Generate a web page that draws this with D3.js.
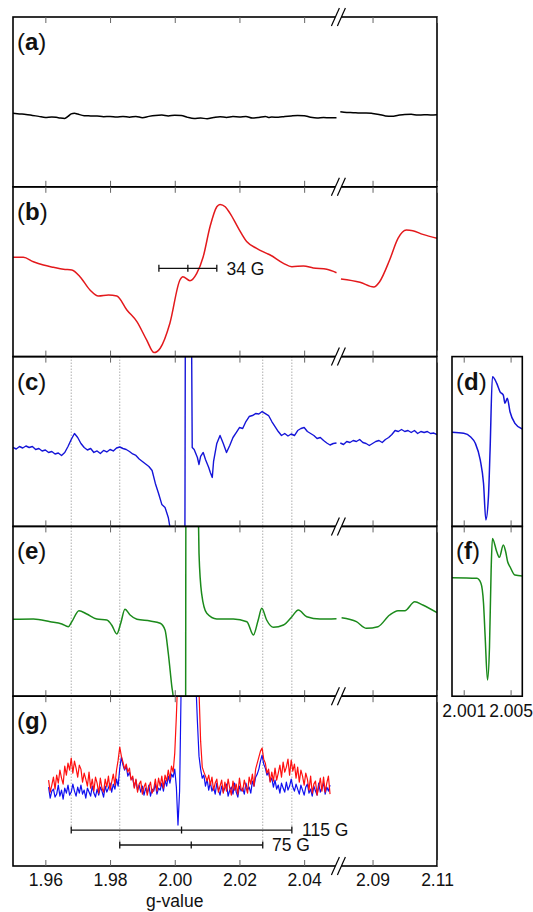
<!DOCTYPE html>
<html>
<head>
<meta charset="utf-8">
<script src="https://cdn.jsdelivr.net/npm/d3@7"></script>
<style>
body{margin:0;background:#fff;}
svg{display:block;}
text{font-family:"Liberation Sans",Arial,sans-serif;}
</style>
</head>
<body>
<svg id="chart" width="533" height="912"></svg>
<script>
// ---- data (g-value, intensity in a.u.) ----
var ticksLeft = [1.96, 1.98, 2.00, 2.02, 2.04];
var ticksRight = [2.09, 2.11];
var ticksInset = [2.001, 2.005];
var rowLabels = ["a", "b", "c", "e", "g"];
var insetLabels = ["d", "f"];
var guideG = [1.968, 1.983, 2.0272, 2.0362];

// (a) black
var specALeft = [[1.950,-11.4],[1.952,-12],[1.954,-12.5],[1.956,-13.5],[1.958,-14.5],[1.960,-15.5],[1.962,-15],[1.964,-15.8],[1.966,-16.6],[1.967,-14.5],[1.968,-12],[1.969,-11.3],[1.970,-12.2],[1.972,-13.8],[1.974,-14],[1.976,-14.2],[1.978,-14.8],[1.980,-14.5],[1.982,-15.2],[1.984,-14.6],[1.986,-15.3],[1.988,-14.5],[1.990,-15.8],[1.992,-14.5],[1.994,-13.6],[1.996,-13.2],[1.998,-14],[2.000,-13.3],[2.002,-13.6],[2.004,-15.5],[2.006,-16.6],[2.008,-16.2],[2.010,-16.8],[2.012,-15.6],[2.014,-14.8],[2.016,-15.5],[2.018,-14.7],[2.020,-15],[2.022,-14.6],[2.024,-16.2],[2.026,-15.6],[2.028,-14.5],[2.029,-15.6],[2.030,-15.2],[2.032,-15.4],[2.034,-14.6],[2.036,-14],[2.038,-13.6],[2.040,-13.8],[2.042,-15.4],[2.044,-16.2],[2.046,-15.6],[2.048,-15.9],[2.050,-15.8]];
var specARight = [[2.080,-9.8],[2.082,-10.6],[2.084,-10.8],[2.086,-11.2],[2.088,-11],[2.090,-11.6],[2.092,-12.6],[2.094,-14],[2.096,-14.4],[2.098,-13.4],[2.100,-12.6],[2.102,-12.4],[2.104,-13.2],[2.106,-12.8],[2.108,-13],[2.110,-12.8]];

// (b) red
var specBLeft = [[1.9500,14.4],[1.9532,14.4],[1.9563,10],[1.9594,6.7],[1.9625,4.4],[1.9656,2.4],[1.9682,1.7],[1.9707,-5],[1.9738,-18.3],[1.9764,-24.3],[1.9795,-23.3],[1.9821,-24.3],[1.9852,-38.3],[1.9883,-50],[1.9913,-68.3],[1.9936,-81],[1.9955,-76.6],[1.9985,-51.6],[2.0016,-8.3],[2.0025,-5],[2.0047,-9],[2.0068,-1.6],[2.0088,15],[2.0109,45],[2.0130,65],[2.0140,67.4],[2.0156,65],[2.0171,58.4],[2.0197,43.4],[2.0223,30],[2.0253,23.4],[2.0284,18.4],[2.0295,16.7],[2.0336,8.4],[2.0362,5],[2.0398,5.7],[2.0428,3.7],[2.0470,2.4],[2.0500,-1]];
var specBRight = [[2.0802,-7.3],[2.0861,-10.6],[2.0904,-15.3],[2.0922,-10],[2.0953,11.7],[2.0979,33.4],[2.1005,41.7],[2.1025,41],[2.1056,37.4],[2.1100,33.4]];

// (c) blue
var specCLeft = [[1.950,-6],[1.951,-7.5],[1.952,-5],[1.953,-6.5],[1.954,-4.5],[1.955,-6],[1.956,-5],[1.957,-8],[1.958,-7],[1.959,-9.5],[1.960,-8.5],[1.961,-11],[1.962,-10],[1.963,-12.5],[1.964,-11.5],[1.965,-14],[1.966,-11],[1.967,-5],[1.968,2],[1.969,8],[1.970,4],[1.971,-2],[1.972,-6],[1.973,-8.5],[1.974,-7],[1.975,-11],[1.976,-9.5],[1.977,-12],[1.978,-9],[1.979,-10.5],[1.980,-8],[1.981,-9.5],[1.982,-6.5],[1.983,-5.5],[1.984,-7],[1.985,-8],[1.986,-10],[1.987,-12.5],[1.988,-14],[1.989,-17.5],[1.990,-20],[1.991,-22.5],[1.992,-25],[1.993,-29],[1.994,-42],[1.995,-52],[1.996,-63],[1.997,-66],[1.998,-76],[1.999,-95],[2.000,-120],[2.001,-140],[2.002,-150],[2.0031,-160],[2.0033,160],[2.004,170],[2.0051,160],[2.0054,-6],[2.006,-8],[2.007,-16],[2.0075,-23],[2.008,-15],[2.0088,-11],[2.0095,-18],[2.010,-22],[2.0105,-26],[2.011,-31],[2.0116,-36],[2.012,-20],[2.013,-2],[2.014,6],[2.015,-2],[2.016,-11],[2.017,-4],[2.018,4],[2.019,9],[2.020,14],[2.021,13],[2.022,20],[2.023,25],[2.024,26],[2.025,28],[2.026,27.5],[2.027,30],[2.028,28],[2.029,26],[2.030,20],[2.031,15],[2.032,10],[2.033,6],[2.034,8],[2.035,5.5],[2.036,7.5],[2.037,6],[2.038,11],[2.039,13],[2.040,14],[2.041,10],[2.042,8],[2.043,6],[2.044,3],[2.045,4],[2.046,1],[2.047,-1.5],[2.048,-3.5],[2.049,-2],[2.050,-1.5]];
var specCRight = [[2.080,-1.5],[2.081,-3],[2.082,0],[2.083,-1],[2.084,1],[2.085,0],[2.086,2],[2.087,-1],[2.088,-2],[2.089,-4],[2.090,-2],[2.091,0],[2.092,1],[2.093,-1],[2.094,2],[2.095,4],[2.096,7],[2.097,11],[2.098,10],[2.099,12],[2.100,10],[2.101,11],[2.102,9],[2.103,11],[2.104,8],[2.105,10],[2.106,9],[2.107,10],[2.108,8],[2.109,8.5],[2.110,7]];

// (d) blue inset
var specD = [[2.0000,9.2],[2.0010,8.2],[2.00157,4.8],[2.00199,-1.8],[2.00241,-18.5],[2.00269,-41.8],[2.00289,-78.5],[2.00311,-55.2],[2.00325,-8.5],[2.00345,64.8],[2.00382,58.2],[2.0041,49.8],[2.00438,46.5],[2.00452,38.2],[2.00472,43.2],[2.00495,29.8],[2.00537,18.2],[2.0060,12.5]];

// (e) green
var specELeft = [[1.9500,-8],[1.9563,-7.7],[1.9615,-10.4],[1.9651,-12.7],[1.9671,-15.4],[1.9682,-10.4],[1.9704,0.6],[1.9728,-2.7],[1.9759,-7.7],[1.9790,-8.7],[1.9805,-13.7],[1.9821,-22.7],[1.9833,-12],[1.9846,2],[1.9862,-3.7],[1.9883,-8],[1.9924,-9.7],[1.9955,-12],[1.9970,-18.7],[1.9980,-42],[1.9991,-75.4],[1.9996,-89],[2.0005,-200],[2.0033,-250],[2.0035,250],[2.0066,250],[2.0072,120],[2.0075,58],[2.0083,18],[2.0099,-2],[2.0130,-7.7],[2.0181,-7.7],[2.0223,-10.4],[2.0243,-23.7],[2.0258,-8.7],[2.0269,3],[2.0284,-8.7],[2.0305,-16],[2.0336,-13.7],[2.0362,-5.4],[2.0382,1.3],[2.0408,-5.4],[2.0449,-7.7],[2.0500,-7.4]];
var specERight = [[2.0804,-6.4],[2.0850,-10.4],[2.0881,-17],[2.0917,-15.4],[2.0953,-3.7],[2.0979,0.6],[2.1000,0.6],[2.1031,9.6],[2.1056,6.3],[2.1100,-1.4]];

// (f) green inset
var specF = [[2.0000,33.6],[2.00213,33],[2.00247,28],[2.00269,8],[2.00283,-25.4],[2.00303,-68.7],[2.0032,-35.4],[2.00334,41.3],[2.00345,73],[2.00382,59.6],[2.00404,54],[2.00438,66.3],[2.00458,59.6],[2.00475,49.6],[2.00495,44.6],[2.00537,36.3],[2.0060,35.3]];

// (g) blue and red, sweep from 1.961 in steps of 0.0005
var gStartG = 1.961, gStepG = 0.0005;
var specGBlue = [-6,-17,-10,-8,-16,-13,-4,-15,-9,-18,
 -7,-12,-4,-14,-11,-3,-10,-15,-6,-12,
 -4,-13,-9,-17,-7,-11,-15,-5,-12,-16,
 -8,-14,-6,-10,-16,-5,-11,-7,-2,-11,
 -3,-8,2,-5,13,24,16,11,15,5,
 9,2,3,-6,1,-9,-4,-11,-5,-14,
 -7,-12,-4,-15,-8,-10,-3,-13,-7,-9,
 -2,-10,1,-5,5,-2,7,4,12,-6,
 -44,-10,100,130,140,140,140,140,140,140,
 130,100,60,25,12,3,6,-5,2,-9,
 -1,-10,-6,-13,-2,-9,-14,-5,-11,-7,
 -3,-15,-9,-6,-13,-2,-11,-16,-5,-10,
 -7,-13,-2,-9,-6,-12,0,-5,4,7,
 12,20,26,17,13,6,9,0,3,-6,
 1,-8,-4,-12,-2,-7,-11,-1,-9,-5,
 2,-6,-10,-3,-8,-13,-4,-9,-14,-6,
 -3,-12,-8,-15,-5,-10,-14,-2,-11,-7,
 -2,-13,-6,-10,-4];
var specGRed = [1,-11,-4,4,-8,6,-2,11,3,-3,
 15,6,18,11,23,8,20,13,4,16,
 12,-1,8,2,-5,9,-7,2,-10,4,
 -2,-12,3,-7,-11,2,-6,5,-9,-1,
 7,-4,11,21,34,25,19,12,17,9,
 13,1,5,-7,2,-11,-3,0,-13,-6,
 -2,-14,-6,-1,-12,-8,2,-10,3,-5,
 5,-7,6,0,11,2,15,9,28,65,
 110,140,140,140,140,140,140,140,140,140,
 140,140,120,90,40,14,9,5,0,6,
 -4,4,-9,-2,2,-11,-5,1,-12,-1,
 -10,2,-7,-14,0,-9,-3,-13,3,-8,
 -10,1,-6,-12,4,-3,7,-5,12,18,
 24,30,33,22,18,8,12,-1,9,0,
 13,1,8,16,4,19,9,14,22,6,
 21,10,17,3,14,-1,11,5,-4,8,
 2,-9,5,-12,-3,0,-14,-6,3,-10,
 4,-11,-2,5,-13];

// scale bars: [g start, g end, level, label]
var barB = [1.9951, 2.0130, 3.4, "34 G"];
var barG1 = [1.968, 2.0362, -49, "115 G"];
var barG2 = [1.983, 2.0272, -64, "75 G"];

// ---- layout ----
var plotLeft = 13, plotRight = 437, rowTop = 17, rowH = 169.8;
var insetLeft = 452, insetRight = 522.3;
var fs = 17.5;

var xL = d3.scaleLinear().domain([1.95, 2.05]).range([plotLeft, 336.5]);
var xR = d3.scaleLinear().domain([2.08, 2.11]).range([340.3, plotRight]);
var xI = d3.scaleLinear().domain([2.000, 2.006]).range([insetLeft, insetRight]);
function yRow(r){
  var t = rowTop + r*rowH;
  return d3.scaleLinear().domain([-85, 85]).range([t + rowH, t]);
}

var svg = d3.select("#chart");
var defs = svg.append("defs");

// clip paths
rowLabels.forEach(function(l, r){
  defs.append("clipPath").attr("id", "clip" + l).append("rect")
    .attr("x", plotLeft).attr("y", rowTop + r*rowH)
    .attr("width", plotRight - plotLeft).attr("height", rowH);
});
[["d",2],["f",3]].forEach(function(p){
  defs.append("clipPath").attr("id", "clip" + p[0]).append("rect")
    .attr("x", insetLeft).attr("y", rowTop + p[1]*rowH)
    .attr("width", insetRight - insetLeft).attr("height", rowH);
});

// dotted guide lines (c, e, g)
var gy = yRow(4);
guideG.forEach(function(g, i){
  var yEnd = (i == 0 || i == 3) ? gy(barG1[2]) : gy(barG2[2]);
  svg.append("line")
    .attr("x1", xL(g)).attr("x2", xL(g))
    .attr("y1", rowTop + 2*rowH).attr("y2", yEnd)
    .attr("stroke", "#9a9a9a").attr("stroke-width", 1)
    .attr("stroke-dasharray", "1.2,1.8");
});

function drawLine(clipId, data, x, y, color, w, curve){
  var line = d3.line()
    .x(function(d){ return x(d[0]); })
    .y(function(d){ return y(d[1]); })
    .curve(curve || d3.curveLinear);
  svg.append("path")
    .attr("clip-path", "url(#" + clipId + ")")
    .attr("d", line(data))
    .attr("fill", "none")
    .attr("stroke", color)
    .attr("stroke-width", w)
    .attr("stroke-linejoin", "round");
}

var smooth = d3.curveMonotoneX;
drawLine("clipa", specALeft, xL, yRow(0), "#000", 1.5, smooth);
drawLine("clipa", specARight, xR, yRow(0), "#000", 1.5, smooth);
drawLine("clipb", specBLeft, xL, yRow(1), "#e3191c", 1.5, smooth);
drawLine("clipb", specBRight, xR, yRow(1), "#e3191c", 1.5, smooth);
drawLine("clipc", specCLeft, xL, yRow(2), "#1515d8", 1.4);
drawLine("clipc", specCRight, xR, yRow(2), "#1515d8", 1.4);
drawLine("clipd", specD, xI, yRow(2), "#1515d8", 1.5, smooth);
drawLine("clipe", specELeft, xL, yRow(3), "#1b8a1b", 1.5, smooth);
drawLine("clipe", specERight, xR, yRow(3), "#1b8a1b", 1.5, smooth);
drawLine("clipf", specF, xI, yRow(3), "#1b8a1b", 1.5, smooth);

var gBlue = specGBlue.map(function(v, i){ return [gStartG + i*gStepG, v]; });
var gRed = specGRed.map(function(v, i){ return [gStartG + i*gStepG, v]; });
drawLine("clipg", gBlue, xL, yRow(4), "#1010f0", 1.2);
drawLine("clipg", gRed, xL, yRow(4), "#ff1010", 1.2);

// scale bars
function scaleBar(bar, r, labelX){
  var y = yRow(r)(bar[2]);
  var x0 = xL(bar[0]), x1 = xL(bar[1]), xm = (x0 + x1)/2;
  var g = svg.append("g").attr("stroke", "#111").attr("stroke-width", 1.3);
  g.append("line").attr("x1", x0).attr("x2", x1).attr("y1", y).attr("y2", y);
  [x0, xm, x1].forEach(function(x){
    g.append("line").attr("x1", x).attr("x2", x).attr("y1", y - 3.5).attr("y2", y + 3.5);
  });
  svg.append("text").attr("x", labelX).attr("y", y + 6.2)
    .attr("font-size", fs).attr("fill", "#111").text(bar[3]);
}
scaleBar(barB, 1, 226.5);
scaleBar(barG1, 4, 302);
scaleBar(barG2, 4, 272);

// frames, ticks, labels
function frame(x0, x1, t){
  svg.append("rect").attr("x", x0).attr("y", t)
    .attr("width", x1 - x0).attr("height", rowH)
    .attr("fill", "none").attr("stroke", "#000").attr("stroke-width", 1.6);
}
function edgeTicks(scale, vals, t, showLabels, fmt){
  var top = svg.append("g").attr("transform", "translate(0," + t + ")")
    .call(d3.axisTop(scale).tickValues(vals).tickSizeInner(-6).tickSizeOuter(0).tickFormat(""));
  var bot = svg.append("g").attr("transform", "translate(0," + (t + rowH) + ")")
    .call(d3.axisBottom(scale).tickValues(vals).tickSizeInner(-6).tickSizeOuter(0).tickPadding(8)
      .tickFormat(showLabels ? d3.format(fmt) : ""));
  [top, bot].forEach(function(a){
    a.select(".domain").remove();
    a.selectAll(".tick line").attr("stroke", "#666").attr("stroke-width", 1);
    a.selectAll(".tick text").attr("font-size", fs).attr("fill", "#111")
      .attr("font-family", "Liberation Sans, Arial, sans-serif");
  });
}
function panelLabel(x, t, l){
  var tx = svg.append("text").attr("x", x).attr("y", t + 33)
    .attr("font-size", 24).attr("fill", "#111");
  tx.append("tspan").text("(");
  tx.append("tspan").attr("font-weight", "bold").text(l);
  tx.append("tspan").text(")");
}

rowLabels.forEach(function(l, r){
  var t = rowTop + r*rowH;
  frame(plotLeft, plotRight, t);
  edgeTicks(xL, ticksLeft, t, r == 4, ".2f");
  edgeTicks(xR, ticksRight, t, r == 4, ".2f");
  panelLabel(plotLeft + 4, t, l);
});
insetLabels.forEach(function(l, i){
  var t = rowTop + (i + 2)*rowH;
  frame(insetLeft, insetRight, t);
  edgeTicks(xI, ticksInset, t, i == 1, ".3f");
  panelLabel(insetLeft + 4, t, l);
});

svg.append("text").attr("x", xL(2.00)).attr("y", 907)
  .attr("text-anchor", "middle").attr("font-size", fs).attr("fill", "#111")
  .text("g-value");

// axis break marks
var cx = (xL(2.05) + xR(2.08))/2;
d3.range(6).forEach(function(i){
  var y = rowTop + i*rowH;
  svg.append("polygon")
    .attr("points", [[cx-7,y+9],[cx+1,y-9],[cx+7,y-9],[cx-1,y+9]].join(" "))
    .attr("fill", "#fff");
  [-3, 3].forEach(function(k){
    svg.append("line")
      .attr("x1", cx + k - 4).attr("y1", y + 9)
      .attr("x2", cx + k + 4).attr("y2", y - 9)
      .attr("stroke", "#000").attr("stroke-width", 1.2);
  });
});
</script>
</body>
</html>
